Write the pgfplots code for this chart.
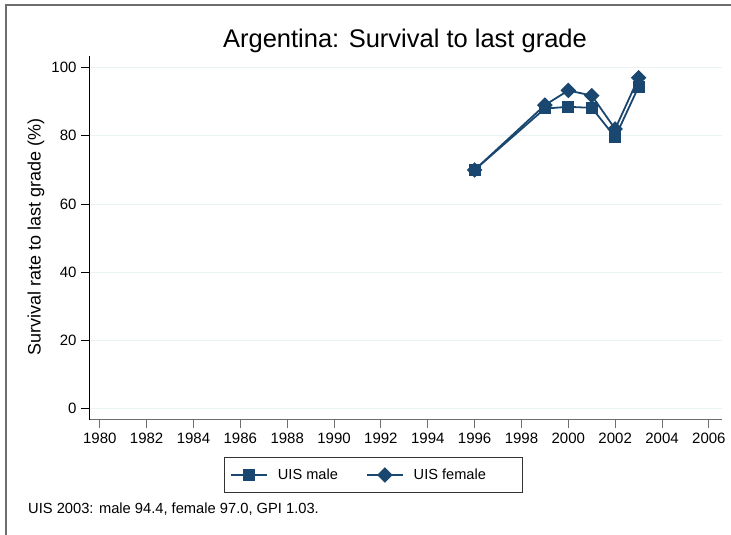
\documentclass[border=0pt]{standalone}
\usepackage{pgfplots}
\pgfplotsset{compat=1.18}
\usepackage{fontspec}
\setmainfont{Liberation Sans}
\definecolor{navy}{HTML}{1A476F}
\definecolor{gridc}{HTML}{EAF2F3}
\definecolor{framec}{HTML}{6E6E6E}
\begin{document}
\begin{tikzpicture}[x=1pt,y=1pt]
\useasboundingbox (0,0) rectangle (731,535);
\draw[framec, line width=1.3pt] (6,0) -- (6,530) -- (731,530);
\begin{axis}[
  at={(89pt,115pt)}, anchor=south west,
  scale only axis, width=633pt, height=364pt,
  xmin=1979.54, xmax=2006.56, ymin=-3.3, ymax=103.4,
  axis lines*=left,
  x axis line style={framec, line width=1pt},
  y axis line style={black, line width=1pt},
  xtick={1980,1982,...,2006}, ytick={0,20,...,100},
  tick align=outside, major tick length=8pt,
  x tick style={framec, line width=1pt},
  y tick style={black, line width=1pt},
  ymajorgrids, grid style={gridc, line width=1pt},
  tick label style={font=\fontsize{15}{15}\selectfont},
  /pgf/number format/1000 sep={},
  /pgf/number format/assume math mode=true,
  xticklabel style={yshift=-1pt},
  yticklabel style={xshift=-1pt},
  clip=false,
  legend columns=2,
  legend style={at={(0.4487,-0.1511)}, anchor=center, draw=black!80, line width=0.8pt,
    font=\fontsize{14.6}{14.6}\selectfont, inner xsep=6pt, inner ysep=9.5pt,
    /tikz/every odd column/.append style={column sep=8pt},
    /tikz/every even column/.append style={column sep=26pt}},
  legend image code/.code={\draw[mark repeat=2,mark phase=2,#1] plot coordinates {(0pt,0pt) (18pt,0pt) (36pt,0pt)};},
]
\addplot[navy, line width=1.8pt, mark=square*, mark size=5pt, mark options={solid}]
  coordinates {(1996,70.0) (1999,88.0) (2000,88.5) (2001,88.2) (2002,79.6) (2003,94.4)};
\addlegendentry{UIS male}
\addplot[navy, line width=1.8pt, mark=square*, mark size=4.6pt, mark options={solid, rotate=45}]
  coordinates {(1996,70.0) (1999,89.0) (2000,93.3) (2001,91.8) (2002,82.0) (2003,97.0)};
\addlegendentry{UIS female\hspace*{28pt}}
\end{axis}
\node[anchor=base, font=\fontsize{25.5}{25.5}\selectfont, inner sep=0pt] at (405,487) {Argentina: Survival to last grade};
\node[anchor=center, rotate=90, font=\fontsize{18}{18}\selectfont, inner sep=0pt] at (36,298) {Survival rate to last grade (\%)};
\node[anchor=base west, font=\fontsize{14.7}{14.7}\selectfont, inner sep=0pt] at (28,21) {UIS 2003: male 94.4, female 97.0, GPI 1.03.};
\end{tikzpicture}
\end{document}
